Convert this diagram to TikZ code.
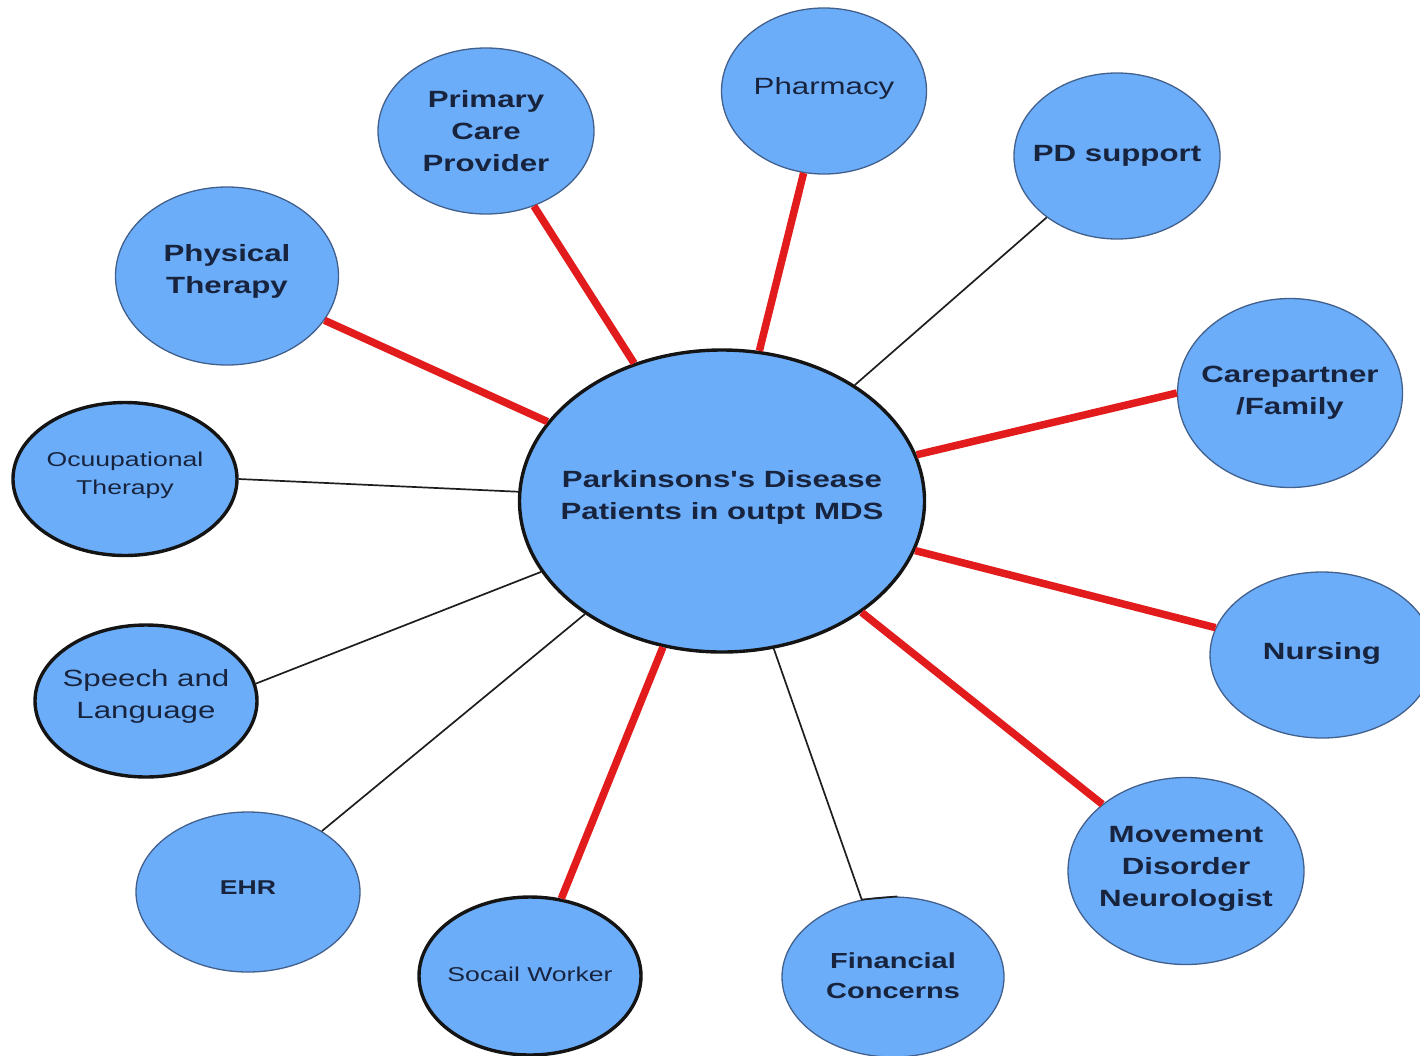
\documentclass[tikz,border=0pt]{standalone}
\usepackage{fontspec}
\setmainfont[FakeStretch=1.33, Ligatures=TeXOff]{Liberation Sans}
\usetikzlibrary{shapes.geometric}
\definecolor{bubble}{RGB}{108,173,250}
\definecolor{rim}{RGB}{66,96,140}
\definecolor{ink}{RGB}{24,36,62}
\definecolor{tie}{RGB}{226,28,28}
\definecolor{wire}{RGB}{30,30,30}
\begin{document}
\begin{tikzpicture}[x=1pt,y=-1pt,
  bub/.style={ellipse, fill=bubble, draw=rim, line width=1.3pt, inner sep=0pt},
  heavy/.style={draw=black!92, line width=3.4pt},
  bold/.style={font=\fontsize{23.5}{32}\selectfont\bfseries, text=ink, align=center},
  plain/.style={font=\fontsize{23.5}{32}\selectfont, text=ink, align=center},
  small/.style={font=\fontsize{20}{28}\selectfont, text=ink, align=center},
  smallbold/.style={font=\fontsize{20}{28}\selectfont\bfseries, text=ink, align=center},
  strong/.style={draw=tie, line width=7.5pt},
  weak/.style={draw=wire, line width=1.7pt}
]
\useasboundingbox (0,0) rectangle (1420,1055);

% hub
\node[bub, heavy, minimum width=405, minimum height=302,
  label={[bold, yshift=4]center:Parkinsons's Disease\\Patients in outpt MDS}] (hub) at (722,501) {};

% surrounding services
\node[bub, minimum width=216, minimum height=166,
  label={[bold]center:Primary\\Care\\Provider}] (pcp) at (486,131) {};
\node[bub, minimum width=205, minimum height=166,
  label={[plain, yshift=3]center:Pharmacy}] (pharm) at (824,91) {};
\node[bub, minimum width=206, minimum height=166,
  label={[bold]center:PD support}] (pds) at (1117,156) {};
\node[bub, minimum width=223, minimum height=178,
  label={[bold, yshift=5]center:Physical\\Therapy}] (pt) at (227,276) {};
\node[bub, minimum width=225, minimum height=189,
  label={[bold]center:Carepartner\\/Family}] (care) at (1290,393) {};
\node[bub, heavy, minimum width=224, minimum height=153,
  label={[small, yshift=4]center:Ocuupational\\Therapy}] (ot) at (125,479) {};
\node[bub, minimum width=224, minimum height=166,
  label={[bold, yshift=2]center:Nursing}] (nurse) at (1322,655) {};
\node[bub, heavy, minimum width=222, minimum height=152,
  label={[plain, yshift=5]center:Speech and\\Language}] (slp) at (146,701) {};
\node[bub, minimum width=224, minimum height=160,
  label={[smallbold, yshift=4]center:EHR}] (ehr) at (248,892) {};
\node[bub, minimum width=236, minimum height=187,
  label={[bold, yshift=2]center:Movement\\Disorder\\Neurologist}] (mdn) at (1186,871) {};
\node[bub, heavy, minimum width=222, minimum height=158,
  label={[small, yshift=2]center:Socail Worker}] (sw) at (530,976) {};
\node[bub, minimum width=222, minimum height=160,
  label={[font=\fontsize{21.8}{30}\selectfont\bfseries, text=ink, align=center, yshift=1]center:Financial\\Concerns}] (fin) at (893,977) {};

% strong ties
\draw[strong] (hub) -- (pcp);
\draw[strong] (hub) -- (pharm);
\draw[strong] (hub) -- (pt);
\draw[strong] (hub) -- (care.west);
\draw[strong] (hub) -- (nurse);
\draw[strong] (hub) -- (mdn);
\draw[strong] (hub) -- (sw);

% weak ties
\draw[weak] (hub) -- (pds);
\draw[weak] (hub) -- (ot.east);
\draw[weak] (hub) -- (slp.9);
\draw[weak] (hub) -- (ehr);
\draw[weak] (hub) -- (fin.112) -- (fin.87);
\end{tikzpicture}
\end{document}
